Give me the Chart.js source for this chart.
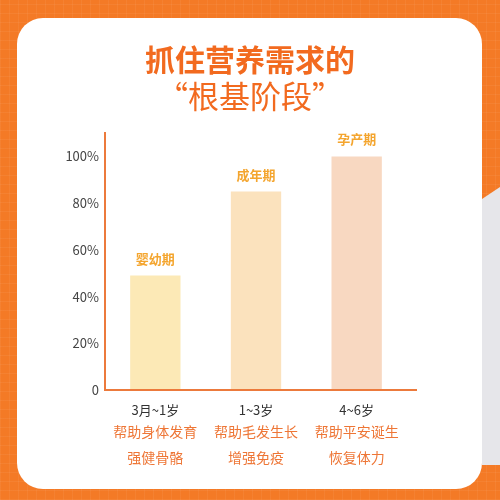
<!DOCTYPE html>
<html><head><meta charset="utf-8">
<script src="https://cdn.jsdelivr.net/npm/chart.js@4/dist/chart.umd.min.js"></script>
<style>
html,body{margin:0;padding:0;}
body{width:500px;height:500px;position:relative;overflow:hidden;background:#F47A26;}
#bg{position:absolute;left:0;top:0;width:500px;height:500px;
 background-image:repeating-linear-gradient(0deg, rgba(255,255,255,0.05) 0 1px, transparent 1px 9px),
 repeating-linear-gradient(90deg, rgba(255,255,255,0.05) 0 1px, transparent 1px 9px);}
#strip{position:absolute;left:482px;top:187px;width:18px;height:278px;background:#E6E6EA;
 clip-path:polygon(0 12px,100% 0,100% 100%,0 100%);}
#card{position:absolute;left:17px;top:18px;width:465px;height:471px;background:#fff;border-radius:26px;}
#wrap{position:absolute;left:0;top:0;width:500px;height:500px;}
</style>
</head><body>
<div id="bg"></div><div id="strip"></div><div id="card"></div>
<div id="wrap"><canvas id="c" width="500" height="500"></canvas></div>
<script>
const FONT = '"Noto Sans CJK SC", "Noto Sans", sans-serif';
const titleText = '抓住营养需求的';
const subtitleText = '“根基阶段”';
const categories = ['3月~1岁', '1~3岁', '4~6岁'];
const stageLabels = ['婴幼期', '成年期', '孕产期'];
const benefitLine1 = ['帮助身体发育', '帮助毛发生长', '帮助平安诞生'];
const benefitLine2 = ['强健骨骼', '增强免疫', '恢复体力'];
const values = [49, 85, 100];
const yTickValues = [0, 20, 40, 60, 80, 100];
const barColors = ['#FCE9B6', '#FBE2BD', '#F8D8C1'];

const ORANGE = '#EE7636';
const AXIS = '#EC7A3C';

const extrasPlugin = {
  id: 'extras',
  afterDatasetsDraw(chart) {
    const ctx = chart.ctx;
    const area = chart.chartArea;
    const xs = chart.scales.x;
    ctx.save();
    ctx.strokeStyle = AXIS;
    ctx.lineWidth = 2;
    ctx.beginPath();
    ctx.moveTo(area.left - 1, area.bottom);
    ctx.lineTo(area.right + 10, area.bottom);
    ctx.stroke();
    const meta = chart.getDatasetMeta(0);
    ctx.textAlign = 'center';
    ctx.textBaseline = 'middle';
    ctx.font = 'bold 13px ' + FONT;
    ctx.fillStyle = '#F4A52E';
    meta.data.forEach((bar, i) => {
      ctx.fillText(stageLabels[i], bar.x, bar.y - 17);
    });
    ctx.font = '14px ' + FONT;
    ctx.fillStyle = ORANGE;
    categories.forEach((c, i) => {
      const x = xs.getPixelForTick(i);
      ctx.fillText(benefitLine1[i], x, area.bottom + 42);
      ctx.fillText(benefitLine2[i], x, area.bottom + 68);
    });
    ctx.restore();
  }
};

new Chart(document.getElementById('c'), {
  type: 'bar',
  data: {
    labels: categories,
    datasets: [{
      data: values,
      backgroundColor: barColors,
      borderWidth: 0,
      categoryPercentage: 1,
      barPercentage: 0.5
    }]
  },
  options: {
    responsive: false,
    animation: false,
    layout: { padding: { top: 42, right: 0, left: 0, bottom: 0 } },
    plugins: {
      legend: { display: false },
      tooltip: { enabled: false },
      title: {
        display: true, text: titleText, color: '#F26A1F',
        font: { size: 30, weight: 'bold', family: FONT, lineHeight: 1.2 },
        padding: { top: 0, bottom: 0 }
      },
      subtitle: {
        display: true, text: subtitleText, color: '#F26A1F',
        font: { size: 31, weight: 'normal', family: FONT, lineHeight: 1.2 },
        padding: { top: 0, bottom: 18 }
      }
    },
    scales: {
      x: {
        grid: { display: false, drawTicks: false },
        border: { display: false },
        ticks: { color: '#333', font: { size: 13, family: FONT }, padding: 12, maxRotation: 0 },
        afterFit(scale) { scale.height = 110; }
      },
      y: {
        min: 0, max: 110,
        grid: { display: false, drawTicks: false },
        border: { display: true, color: AXIS, width: 2 },
        afterBuildTicks(scale) { scale.ticks = yTickValues.map(v => ({ value: v })); },
        ticks: {
          color: '#444', font: { size: 13, family: FONT }, padding: 6,
          callback: v => v === 0 ? '0' : v + '%'
        },
        afterFit(scale) { scale.width = 105; }
      },
      yRight: {
        position: 'right',
        grid: { display: false, drawTicks: false },
        border: { display: false },
        ticks: { display: false },
        afterFit(scale) { scale.width = 93; }
      }
    }
  },
  plugins: [extrasPlugin]
});
</script>
</body></html>
